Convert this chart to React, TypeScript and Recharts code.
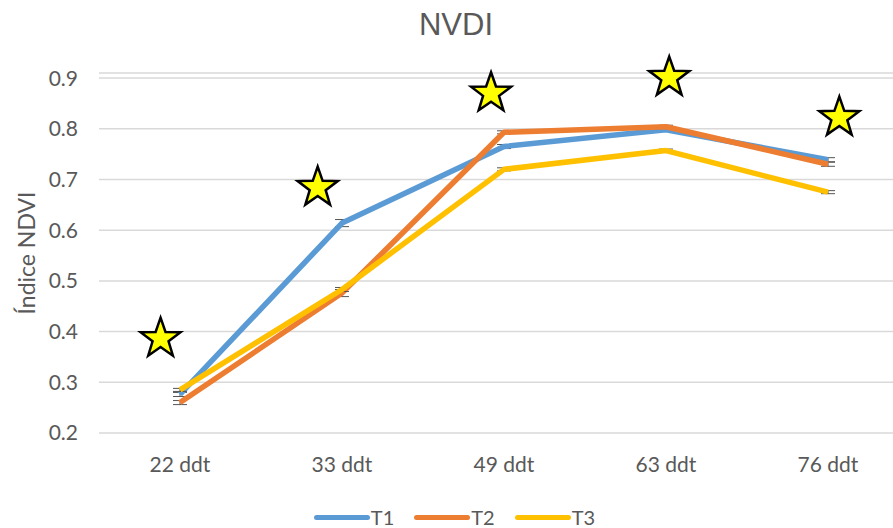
import React from 'react';
import {
  ComposedChart,
  Line,
  Scatter,
  XAxis,
  YAxis,
  CartesianGrid,
  Legend,
  ErrorBar,
} from 'recharts';

const categories = ['22 ddt', '33 ddt', '49 ddt', '63 ddt', '76 ddt'];
const t1 = [0.276, 0.614, 0.765, 0.798, 0.739];
const t2 = [0.26, 0.476, 0.793, 0.804, 0.73];
const t3 = [0.285, 0.483, 0.72, 0.757, 0.675];
const e1 = [0.004, 0.007, 0.004, 0.003, 0.004];
const e2 = [0.004, 0.007, 0.003, 0.003, 0.004];
const e3 = [0.003, 0.004, 0.003, 0.003, 0.003];
const starX = [-0.12, 0.85, 1.92, 3.02, 4.07];
const starY = [0.386, 0.684, 0.87, 0.901, 0.822];
const yTicks = [0.2, 0.3, 0.4, 0.5, 0.6, 0.7, 0.8, 0.9];

const seriesNames = ['T1', 'T2', 'T3'];
const seriesColors = ['#5B9BD5', '#ED7D31', '#FFC000'];

const rows = categories.map((c, i) => ({
  x: i,
  t1: t1[i],
  t2: t2[i],
  t3: t3[i],
  e1: e1[i],
  e2: e2[i],
  e3: e3[i],
}));

const starData = starX.map((x, i) => ({ x, y: starY[i] }));

const TEXT = '#595959';
const FONT = 'Lato, "Open Sans", sans-serif';

const StarShape = (props: any) => {
  const { cx, cy } = props;
  if (cx == null || cy == null) return null;
  const R = 21;
  const r = R * 0.4;
  const pts: string[] = [];
  for (let k = 0; k < 10; k++) {
    const rad = k % 2 === 0 ? R : r;
    const a = -Math.PI / 2 + (k * Math.PI) / 5;
    pts.push(`${cx + rad * Math.cos(a)},${cy + rad * Math.sin(a)}`);
  }
  return (
    <polygon
      points={pts.join(' ')}
      fill="#FFFF00"
      stroke="#000"
      strokeWidth={2.5}
      strokeLinejoin="miter"
    />
  );
};

const renderLegend = (props: any) => {
  const payload = (props.payload || []).filter((p: any) => p.type !== 'none');
  return (
    <div
      style={{
        height: 22,
        display: 'flex',
        justifyContent: 'center',
        alignItems: 'center',
        fontFamily: FONT,
        fontSize: 20,
        color: TEXT,
      }}
    >
      {payload.map((p: any, i: number) => (
        <div
          key={i}
          style={{ display: 'flex', alignItems: 'center', marginRight: i < payload.length - 1 ? 20 : 0 }}
        >
          <span
            style={{
              display: 'inline-block',
              width: 56,
              height: 5,
              borderRadius: 3,
              background: p.color,
              marginRight: 1,
            }}
          />
          <span style={{ lineHeight: '22px' }}>{p.value}</span>
        </div>
      ))}
    </div>
  );
};

const YLabel = (props: any) => {
  const vb = props.viewBox || {};
  const cx = (vb.x || 0) + 26;
  const cy = (vb.y || 0) + (vb.height || 0) / 2;
  return (
    <text
      x={cx}
      y={cy}
      transform={`rotate(-90 ${cx} ${cy})`}
      textAnchor="middle"
      dominantBaseline="central"
      fill={TEXT}
      fontSize={23}
      fontFamily={FONT}
    >
      Índice NDVI
    </text>
  );
};

export default function App() {
  const W = 912;
  const H = 528;
  return (
    <div
      style={{
        position: 'fixed',
        left: 0,
        top: 0,
        width: 893,
        height: 528,
        overflow: 'hidden',
        background: '#fff',
      }}
    >
      <div style={{ position: 'relative', width: W, height: H }}>
        <ComposedChart
          width={W}
          height={H}
          data={rows}
          margin={{ top: 73, right: 3, left: 0, bottom: 0 }}
        >
          <CartesianGrid vertical={false} stroke="#D9D9D9" strokeWidth={1.5} />
          <XAxis
            type="number"
            dataKey="x"
            domain={[-0.5, 4.5]}
            ticks={[0, 1, 2, 3, 4]}
            tickFormatter={(v: number) => categories[v]}
            axisLine={false}
            tickLine={false}
            tickMargin={18}
            height={73}
            tick={{ fill: TEXT, fontSize: 21, fontFamily: FONT }}
          />
          <YAxis
            type="number"
            domain={[0.2, 0.91]}
            ticks={yTicks}
            tickFormatter={(v: number) => v.toFixed(1)}
            axisLine={false}
            tickLine={false}
            tickMargin={15}
            width={99}
            tick={{ fill: TEXT, fontSize: 21, fontFamily: FONT }}
            label={{ content: YLabel }}
          />
          <Legend verticalAlign="bottom" content={renderLegend} />
          <Line
            type="linear"
            dataKey="t1"
            name={seriesNames[0]}
            stroke={seriesColors[0]}
            strokeWidth={5.5}
            strokeLinejoin="round"
            dot={false}
            activeDot={false}
            isAnimationActive={false}
          >
            <ErrorBar dataKey="e1" width={7} stroke="#555" strokeWidth={1} direction="y" />
          </Line>
          <Line
            type="linear"
            dataKey="t2"
            name={seriesNames[1]}
            stroke={seriesColors[1]}
            strokeWidth={5.5}
            strokeLinejoin="round"
            dot={false}
            activeDot={false}
            isAnimationActive={false}
          >
            <ErrorBar dataKey="e2" width={7} stroke="#555" strokeWidth={1} direction="y" />
          </Line>
          <Line
            type="linear"
            dataKey="t3"
            name={seriesNames[2]}
            stroke={seriesColors[2]}
            strokeWidth={5.5}
            strokeLinejoin="round"
            dot={false}
            activeDot={false}
            isAnimationActive={false}
          >
            <ErrorBar dataKey="e3" width={7} stroke="#555" strokeWidth={1} direction="y" />
          </Line>
          <Scatter
            data={starData}
            dataKey="y"
            shape={StarShape}
            legendType="none"
            isAnimationActive={false}
          />
        </ComposedChart>
        <div
          style={{
            position: 'absolute',
            left: 0,
            top: 7,
            width: W,
            textAlign: 'center',
            fontFamily: '"Liberation Sans", Arial, sans-serif',
            fontSize: 31,
            lineHeight: '36px',
            color: TEXT,
            pointerEvents: 'none',
          }}
        >
          NVDI
        </div>
      </div>
    </div>
  );
}
